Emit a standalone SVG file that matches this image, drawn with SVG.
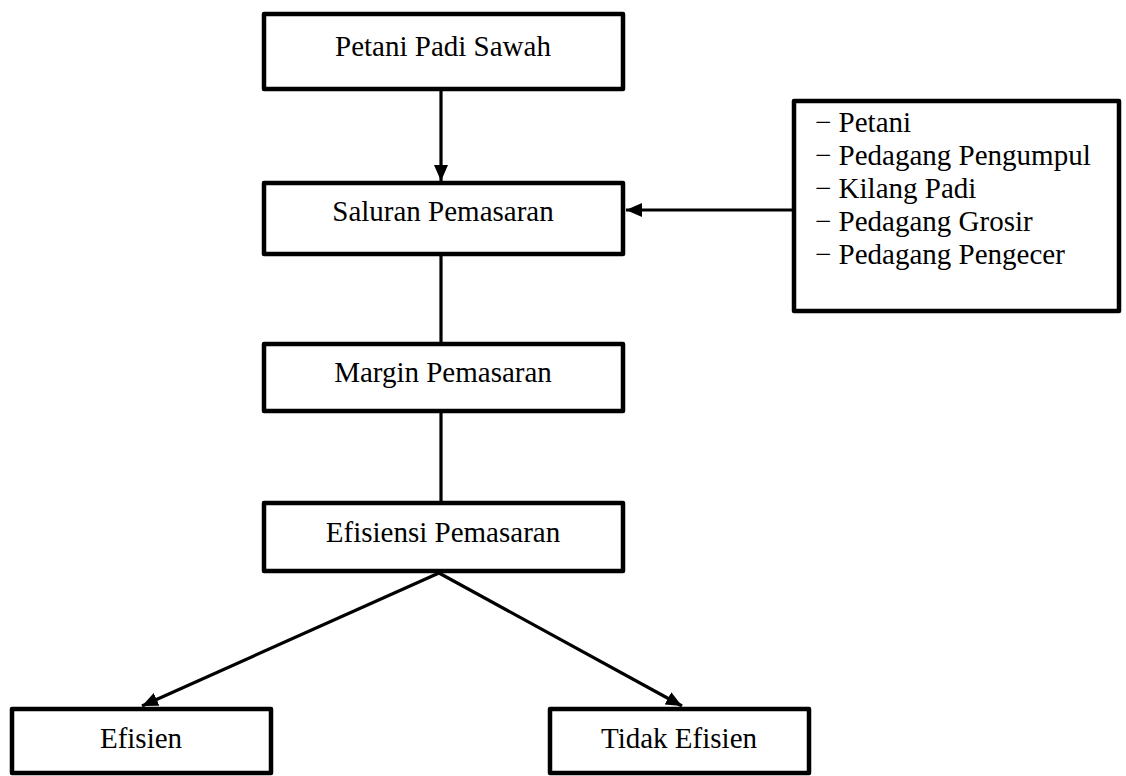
<svg xmlns="http://www.w3.org/2000/svg" width="1126" height="776" viewBox="0 0 1126 776">
<defs>
<style>
.box{fill:#fff;stroke:#000;stroke-width:4.5;stroke-linejoin:round}
.t{font-family:"Liberation Serif","Times New Roman",serif;font-size:29px;fill:#000}
.c{text-anchor:middle}
.ln{stroke:#000;stroke-width:3.2;fill:none}
</style>
<marker id="ah" markerUnits="userSpaceOnUse" markerWidth="18" markerHeight="16" refX="16" refY="7" orient="auto">
<path d="M0,0 L16,7 L0,14 Z" fill="#000"/>
</marker>
</defs>
<rect width="1126" height="776" fill="#fff"/>
<g id="connectors">
<line class="ln" x1="441" y1="90" x2="441" y2="181" marker-end="url(#ah)"/>
<line class="ln" x1="792" y1="210" x2="626" y2="210" marker-end="url(#ah)"/>
<line class="ln" x1="441" y1="255" x2="441" y2="344"/>
<line class="ln" x1="441" y1="412" x2="441" y2="503"/>
<line class="ln" x1="439" y1="573" x2="142" y2="706" marker-end="url(#ah)"/>
<line class="ln" x1="439" y1="573" x2="682" y2="706" marker-end="url(#ah)"/>
</g>
<g id="petani-padi-sawah">
<rect class="box" x="264" y="14" width="359" height="75"/>
<text class="t c" x="443" y="56">Petani Padi Sawah</text>
</g>
<g id="saluran-pemasaran">
<rect class="box" x="264" y="183" width="359" height="71"/>
<text class="t c" x="443" y="221">Saluran Pemasaran</text>
</g>
<g id="pelaku">
<rect class="box" x="794" y="101" width="325" height="210"/>
<text class="t" x="815" y="132">− Petani</text>
<text class="t" x="815" y="165">− Pedagang Pengumpul</text>
<text class="t" x="815" y="198">− Kilang Padi</text>
<text class="t" x="815" y="231">− Pedagang Grosir</text>
<text class="t" x="815" y="264">− Pedagang Pengecer</text>
</g>
<g id="margin-pemasaran">
<rect class="box" x="264" y="344" width="359" height="67"/>
<text class="t c" x="443" y="382">Margin Pemasaran</text>
</g>
<g id="efisiensi-pemasaran">
<rect class="box" x="264" y="503" width="359" height="68"/>
<text class="t c" x="443" y="542">Efisiensi Pemasaran</text>
</g>
<g id="efisien">
<rect class="box" x="12" y="709" width="259" height="64"/>
<text class="t c" x="141" y="748">Efisien</text>
</g>
<g id="tidak-efisien">
<rect class="box" x="550" y="709" width="259" height="64"/>
<text class="t c" x="679" y="748">Tidak Efisien</text>
</g>
</svg>
